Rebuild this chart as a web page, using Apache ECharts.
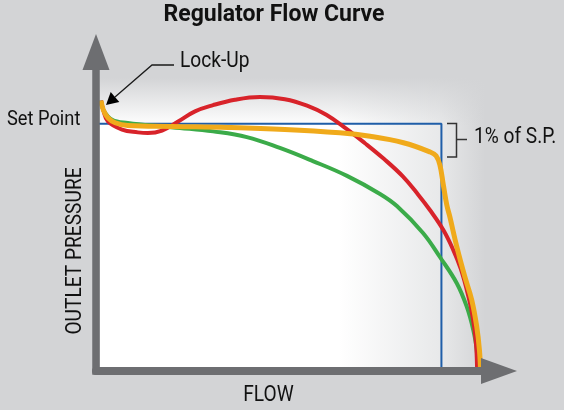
<!DOCTYPE html>
<html><head><meta charset="utf-8">
<script src="https://cdn.jsdelivr.net/npm/echarts@6/dist/echarts.min.js"></script>
<style>html,body{margin:0;padding:0;background:#d3d4d6}#c{width:564px;height:410px}</style>
</head><body><div id="c"></div>
<script>
// Flow (0..100 = full flow) vs outlet pressure (100 = set point)
const setPointBox = [[0, 100], [90, 100], [90, 0]];
const greenCurve = [[1.3,109.3],[1.9,105.6],[4.2,101.6],[8.3,100.3],[17.2,98.9],[21.9,98.3],[30.5,96.9],[39.3,94.6],[47.9,90.2],[56.5,84.9],[65.4,78.9],[74.0,71.6],[78.4,66.7],[85.2,55.8],[89.6,46.1],[94.0,35.5],[96.6,26.0],[98.3,16.6],[99.2,8.5],[99.4,0]];
const redCurve = [[1.3,109.3],[1.9,105.5],[3.1,100.9],[6.8,97.6],[10.9,96.5],[13.5,96.2],[17.2,97.2],[21.4,100.9],[25.8,105.0],[30.5,107.5],[36.2,109.7],[42.7,110.8],[49.2,109.9],[55.0,107.3],[60.0,103.6],[65.0,98.2],[70.0,92.2],[75.0,85.8],[80.0,78.6],[84.0,71.2],[87.0,65.1],[90.5,57.0],[93.1,48.9],[95.0,41.5],[96.5,33.5],[97.7,25.5],[98.6,17.0],[99.1,9.0],[99.3,0]];
const orangeCurve = [[1.3,109.3],[1.9,105.6],[3.1,102.4],[5.0,100.4],[8.3,99.3],[19.8,98.9],[34.4,98.5],[49.2,97.7],[63.5,96.3],[71.4,94.9],[80.1,92.3],[87.0,88.6],[88.6,87.0],[89.6,83.3],[90.5,75.2],[91.4,67.1],[92.2,62.3],[94.0,50.3],[96.1,38.1],[97.9,28.7],[99.2,17.9],[99.9,8.5],[100.2,0]];

const titleText = 'Regulator Flow Curve';
const xName = 'FLOW';
const yName = 'OUTLET PRESSURE';
const setPointLabel = 'Set Point';
const lockUpLabel = 'Lock-Up';
const bandLabel = '1% of S.P.';

const FONT = 'Roboto, "Liberation Sans", sans-serif';
const BG = '#d3d4d6';
const AXIS = '#6d6e71';

function txt(text, x, y, o) {
  o = o || {};
  return {
    type: 'text', x: x, y: y, rotation: o.rotation || 0, scaleX: o.scaleX || 0.87, z: 20, silent: true,
    style: {
      text: text, fill: '#111', font: (o.weight || 'normal') + ' ' + (o.size || 22) + 'px ' + FONT,
      textAlign: o.align || 'left', textVerticalAlign: 'middle', align: o.align || 'left', verticalAlign: 'middle'
    }
  };
}

const chart = echarts.init(document.getElementById('c'), null, {renderer: 'canvas'});
chart.setOption({
  backgroundColor: BG,
  animation: false,
  grid: {left: 96, right: 65, top: 52, bottom: 39},
  xAxis: {
    type: 'value', min: 0, max: 105, z: 5,
    axisLine: {show: true, symbol: ['none', 'triangle'], symbolSize: [26, 36], lineStyle: {color: AXIS, width: 8}},
    axisTick: {show: false}, axisLabel: {show: false}, splitLine: {show: false}
  },
  yAxis: {
    type: 'value', min: 0, max: 129, z: 5,
    axisLine: {show: true, symbol: ['none', 'triangle'], symbolSize: [27, 36], lineStyle: {color: AXIS, width: 7.5, cap: 'square'}},
    axisTick: {show: false}, axisLabel: {show: false}, splitLine: {show: false}
  },
  series: [
    {type: 'line', data: setPointBox, symbol: 'none', silent: true, lineStyle: {color: '#1f5ea8', width: 2}},
    {type: 'line', data: greenCurve, symbol: 'none', smooth: 0.4, silent: true, lineStyle: {color: '#3bab49', width: 4}},
    {type: 'line', data: redCurve, symbol: 'none', smooth: 0.4, silent: true, lineStyle: {color: '#d8232a', width: 4}},
    {type: 'line', data: orangeCurve, symbol: 'none', smooth: 0.4, silent: true, lineStyle: {color: '#f0aa1b', width: 5}}
  ],
  graphic: [
    {type: 'rect', z: -10, silent: true, shape: {x: 100, y: 78, width: 385, height: 289},
      style: {fill: {type: 'linear', x: 0, y: 0, x2: 1, y2: 0, colorStops: [
        {offset: 0, color: '#ffffff'}, {offset: 0.62, color: '#ffffff'}, {offset: 0.88, color: '#e8e9ea'}, {offset: 1, color: BG}]}}},
    {type: 'rect', z: -9, silent: true, shape: {x: 100, y: 78, width: 385, height: 48},
      style: {fill: {type: 'linear', x: 0, y: 0, x2: 0, y2: 1, colorStops: [
        {offset: 0, color: 'rgba(211,212,214,1)'}, {offset: 1, color: 'rgba(211,212,214,0)'}]}}},
    {type: 'polyline', z: 20, silent: true, shape: {points: [[174, 65], [152, 65], [115, 97]]}, style: {stroke: '#1a1a1a', lineWidth: 1.3, fill: null}},
    {type: 'polygon', z: 20, silent: true, shape: {points: [[106, 105], [119.3, 101.9], [110.7, 92.1]]}, style: {fill: '#000'}},
    {type: 'polyline', z: 20, silent: true, shape: {points: [[447, 123.5], [456.5, 123.5], [456.5, 157], [447, 157]]}, style: {stroke: '#333', lineWidth: 1.5, fill: null}},
    {type: 'polyline', z: 20, silent: true, shape: {points: [[456.5, 139.5], [467, 139.5]]}, style: {stroke: '#333', lineWidth: 1.5, fill: null}},
    txt(titleText, 274, 15, {align: 'center', weight: 'bold', size: 23, scaleX: 1}),
    txt(lockUpLabel, 180, 61, {size: 22}),
    txt(setPointLabel, 7, 120, {size: 21}),
    txt(bandLabel, 474, 137, {size: 22}),
    txt(yName, 75, 251, {align: 'center', size: 22, rotation: Math.PI / 2}),
    txt(xName, 268.5, 395, {align: 'center', size: 22})
  ]
});
</script>
</body></html>
